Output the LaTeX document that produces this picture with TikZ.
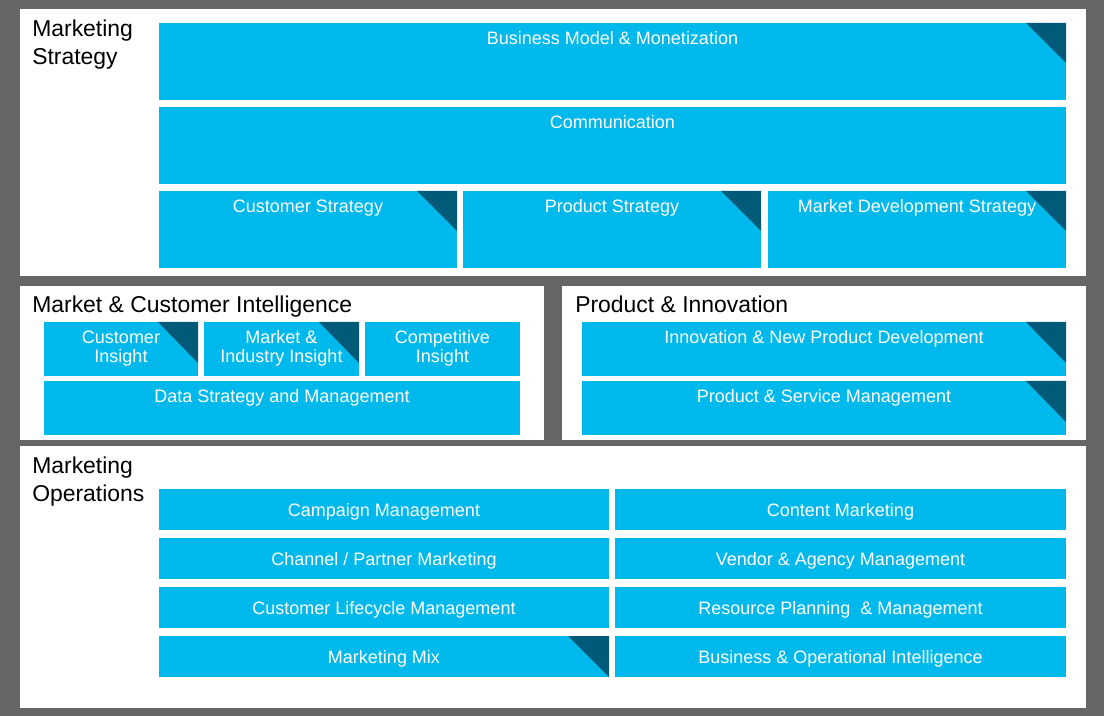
\documentclass[tikz,border=0pt]{standalone}
\usepackage{fontspec}
\setmainfont{Liberation Sans}
\definecolor{bleuciel}{RGB}{0,185,236}
\definecolor{coin}{RGB}{0,90,120}
\definecolor{fond}{RGB}{102,102,102}
\usepackage{tikz}
\usetikzlibrary{positioning}

\begin{document}
\begin{tikzpicture}[x=0.75pt,y=-0.75pt,
	titre/.style={anchor=base west,inner sep=0,align=left,font=\fontsize{17.2}{21}\selectfont},
	lib/.style={text=white,inner sep=0,align=center,font=\fontsize{13.5}{14.25}\selectfont},
	bloc/.style={fill=bleuciel},
	angle/.style={fill=coin}]
	\fill[fond] (0,0) rectangle (1104,716);
	\useasboundingbox (0,0) rectangle (1104,716);
	
	% panneaux
	\fill[white] (20,9) rectangle (1086,276);
	\fill[white] (20,286) rectangle (544,440);
	\fill[white] (562,286) rectangle (1086,440);
	\fill[white] (20,446) rectangle (1086,708);
	
	% Marketing Strategy
	\node[titre] (tstrat) at (32,65) {Marketing\\Strategy};
	\fill[bloc] (159,23) rectangle (1066,100);
	\fill[angle] (1026,23) -- (1066,23) -- (1066,63) -- cycle;
	\node[lib,anchor=base] (bmodel) at (612.5,45) {Business Model \& Monetization};
	\fill[bloc] (159,107) rectangle (1066,184);
	\node[lib,anchor=base] (comm) at (612.5,129) {Communication};
	\fill[bloc] (159,191) rectangle (457,268);
	\fill[angle] (417,191) -- (457,191) -- (457,231) -- cycle;
	\node[lib,anchor=base] (custstrat) at (308,213) {Customer Strategy};
	\fill[bloc] (463,191) rectangle (761,268);
	\fill[angle] (721,191) -- (761,191) -- (761,231) -- cycle;
	\node[lib,anchor=base] (prodstrat) at (612,213) {Product Strategy};
	\fill[bloc] (768,191) rectangle (1066,268);
	\fill[angle] (1026,191) -- (1066,191) -- (1066,231) -- cycle;
	\node[lib,anchor=base] (mktdev) at (917,213) {Market Development Strategy};
	
	% Market & Customer Intelligence
	\node[titre] (tmci) at (32,313) {Market \& Customer Intelligence};
	\fill[bloc] (44,322) rectangle (198,376);
	\fill[angle] (158,322) -- (198,322) -- (198,363) -- cycle;
	\node[lib,anchor=base] (custins) at (121,363) {Customer\\Insight};
	\fill[bloc] (204,322) rectangle (359,376);
	\fill[angle] (319,322) -- (359,322) -- (359,363) -- cycle;
	\node[lib,anchor=base] (mktins) at (281.5,363) {Market \&\\Industry Insight};
	\fill[bloc] (365,322) rectangle (520,376);
	\node[lib,anchor=base] (compins) at (442.5,363) {Competitive\\Insight};
	\fill[bloc] (44,381) rectangle (520,435);
	\node[lib,anchor=base] (data) at (282,403) {Data Strategy and Management};
	
	% Product & Innovation
	\node[titre] (tpi) at (575,313) {Product \& Innovation};
	\fill[bloc] (582,322) rectangle (1066,376);
	\fill[angle] (1026,322) -- (1066,322) -- (1066,363) -- cycle;
	\node[lib,anchor=base] (innov) at (824,344) {Innovation \& New Product Development};
	\fill[bloc] (582,381) rectangle (1066,435);
	\fill[angle] (1026,381) -- (1066,381) -- (1066,422) -- cycle;
	\node[lib,anchor=base] (prodserv) at (824,403) {Product \& Service Management};
	
	% Marketing Operations
	\node[titre] (tops) at (32,502) {Marketing\\Operations};
	\foreach \y/\g/\d [count=\i] in {489/Campaign Management/Content Marketing,
		538/{Channel / Partner Marketing}/Vendor \& Agency Management,
		587/Customer Lifecycle Management/Resource Planning \ \& Management,
		636/Marketing Mix/Business \& Operational Intelligence}
	{
		\fill[bloc] (159,\y) rectangle (609,\y+41);
		\fill[bloc] (615,\y) rectangle (1066,\y+41);
		\node[lib] (opg\i) at (384,\y+22.5) {\g};
		\node[lib] (opd\i) at (840.5,\y+22.5) {\d};
	}
	\fill[angle] (568,636) -- (609,636) -- (609,677) -- cycle;
\end{tikzpicture}
\end{document}
